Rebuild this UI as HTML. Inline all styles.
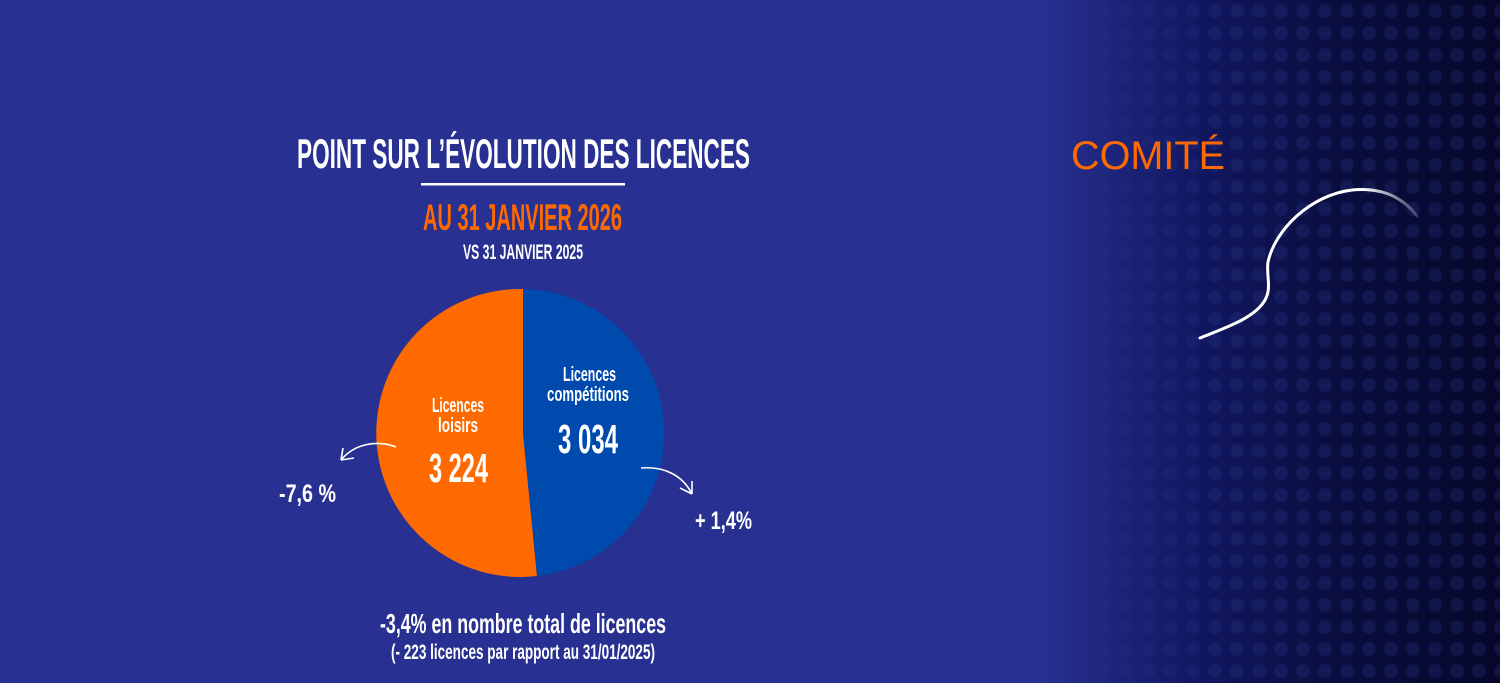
<!DOCTYPE html>
<html><head><meta charset="utf-8"><style>
html,body{margin:0;padding:0;}
body{width:1500px;height:683px;overflow:hidden;background:#283091;position:relative;}
.bg{position:absolute;left:0;top:0;width:1500px;height:683px;background:linear-gradient(90deg,#283091 0px,#283091 1045px,#1c2378 1120px,#111760 1200px,#0a0e40 1330px,#05072a 1500px);}
.dots{position:absolute;left:1050px;top:0;width:450px;height:683px;background-image:radial-gradient(circle,rgba(55,70,160,0.22) 0,rgba(55,70,160,0.22) 6px,transparent 8px);background-size:22px 22px;-webkit-mask-image:linear-gradient(90deg,transparent,#000 40%);mask-image:linear-gradient(90deg,transparent,#000 40%);}
svg{position:absolute;left:0;top:0;}
text{font-family:"Liberation Sans",sans-serif;font-weight:bold;}
</style></head><body>
<div class="bg"></div><div class="dots"></div>
<svg width="1500" height="683" viewBox="0 0 1500 683">
<text x="297" y="168" font-size="42" fill="#fff" textLength="453" lengthAdjust="spacingAndGlyphs">POINT SUR L’ÉVOLUTION DES LICENCES</text>
<rect x="421" y="183" width="204" height="2.5" fill="#fff"/>
<text x="423" y="230" font-size="37" fill="#ff6a00" textLength="199" lengthAdjust="spacingAndGlyphs">AU 31 JANVIER 2026</text>
<text x="463" y="259" font-size="21" fill="#fff" textLength="120" lengthAdjust="spacingAndGlyphs">VS 31 JANVIER 2025</text>
<path d="M523 289 A144 144 0 1 0 537 576 L523 433 Z" fill="#ff6a00"/>
<path d="M523 289 A144 144 0 0 1 537 576 L523 433 Z" fill="#004aad"/>
<text x="432" y="412" font-size="20" fill="#fff" textLength="52" lengthAdjust="spacingAndGlyphs">Licences</text>
<text x="438" y="432" font-size="20" fill="#fff" textLength="40" lengthAdjust="spacingAndGlyphs">loisirs</text>
<text x="429" y="482" font-size="41" fill="#fff" textLength="59" lengthAdjust="spacingAndGlyphs">3 224</text>
<text x="563" y="381" font-size="20" fill="#fff" textLength="53" lengthAdjust="spacingAndGlyphs">Licences</text>
<text x="547" y="401" font-size="20" fill="#fff" textLength="82" lengthAdjust="spacingAndGlyphs">compétitions</text>
<text x="558" y="453" font-size="41" fill="#fff" textLength="60" lengthAdjust="spacingAndGlyphs">3 034</text>
<text x="279" y="502" font-size="25" fill="#fff" textLength="57" lengthAdjust="spacingAndGlyphs">-7,6 %</text>
<text x="695" y="529" font-size="25" fill="#fff" textLength="57" lengthAdjust="spacingAndGlyphs">+ 1,4%</text>
<path d="M396 447 C378 440 355 443 341 460 M341 460 L354 458 M341 460 L343 448" stroke="#fff" stroke-width="1.6" fill="none"/>
<path d="M641 468 C665 466 683 476 692 494 M692 494 L692 481 M692 494 L680 488" stroke="#fff" stroke-width="1.6" fill="none"/>
<text x="380" y="633" font-size="28" fill="#fff" textLength="286" lengthAdjust="spacingAndGlyphs">-3,4% en nombre total de licences</text>
<text x="391" y="659" font-size="21" fill="#fff" textLength="264" lengthAdjust="spacingAndGlyphs">(- 223 licences par rapport au 31/01/2025)</text>
<text x="1071" y="169" font-size="40" style="font-weight:normal" fill="#ff6a00" textLength="154" lengthAdjust="spacingAndGlyphs">COMITÉ</text>
<defs><linearGradient id="fade" x1="1200" y1="0" x2="1417" y2="0" gradientUnits="userSpaceOnUse"><stop offset="0.75" stop-color="#fff"/><stop offset="1" stop-color="#fff" stop-opacity="0.2"/></linearGradient></defs>
<path d="M1200 338 C1225 328 1255 318 1265 300 C1272 288 1266 275 1268 262 C1275 230 1310 195 1352 190 C1385 187 1405 200 1417 216" stroke="url(#fade)" stroke-width="3" fill="none" stroke-linecap="round"/>
</svg>
</body></html>
